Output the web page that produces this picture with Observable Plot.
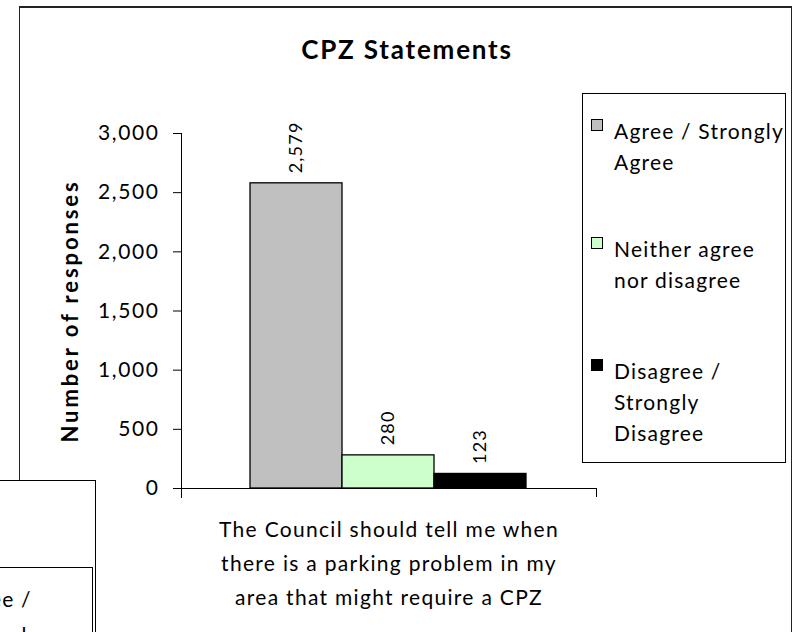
<!DOCTYPE html>
<html><head><meta charset="utf-8">
<script src="https://cdn.jsdelivr.net/npm/d3@7"></script>
<script src="https://cdn.jsdelivr.net/npm/@observablehq/plot@0.6"></script>
<style>
html,body{margin:0;padding:0;background:#fff;}
#wrap{position:relative;width:793px;height:632px;overflow:hidden;font-family:Lato,"Open Sans",sans-serif;color:#000;background:#fff;}
#wrap svg{position:absolute;left:0;top:0;}
.box{position:absolute;border:1px solid #000;background:#fff;box-sizing:border-box;}
#frame{left:19px;top:6px;width:773px;height:700px;background:transparent;border-color:#222;border-top-width:2px;}
#legend{left:582px;top:93px;width:204px;height:370px;}
.entry{position:absolute;left:0;font-size:21px;line-height:31px;letter-spacing:1.2px;}
.sw{position:absolute;left:8px;width:12px;height:12px;border:1px solid #000;box-sizing:border-box;}
.lbl{position:absolute;left:31px;white-space:nowrap;}
#boxA{left:-5px;top:480px;width:101px;height:200px;}
#boxB{left:-5px;top:567px;width:98px;height:200px;}
#other{position:absolute;font-size:21px;line-height:36px;letter-spacing:1.2px;white-space:nowrap;}
.ls-tick{letter-spacing:1.6px;}
.ls-val{letter-spacing:1.2px;}
.ls-cat{letter-spacing:1.3px;}
.ls-ylab{letter-spacing:2.9px;}
.ls-title{letter-spacing:1.8px;}
</style></head><body><div id="wrap"></div>
<script>
// ---- data ----
const title = "CPZ Statements";
const yLabel = "Number of responses";
const category = "The Council should tell me when\nthere is a parking problem in my\narea that might require a CPZ";
const series = ["Agree / Strongly Agree", "Neither agree nor disagree", "Disagree / Strongly Disagree"];
const legendLines = [["Agree / Strongly", "Agree"], ["Neither agree", "nor disagree"], ["Disagree /", "Strongly", "Disagree"]];
const values = [2579, 280, 123];
const colors = ["#C0C0C0", "#CCFFCC", "#000000"];
const yTicks = [0, 500, 1000, 1500, 2000, 2500, 3000];
const otherLegendLines = ["Agree /", "Strongly"];

const rows = series.map((s, i) => ({series: s, value: values[i]}));
const fmt = d3.format(",");
const font = 'Lato, "Open Sans", sans-serif';

const wrap = document.getElementById("wrap");

const frame = document.createElement("div");
frame.className = "box"; frame.id = "frame";
wrap.appendChild(frame);

const chart = Plot.plot({
  width: 793, height: 632,
  marginLeft: 181, marginRight: 197, marginTop: 133, marginBottom: 144,
  style: {fontFamily: font, background: "transparent", color: "#000", overflow: "visible"},
  x: {domain: series, padding: 0, insetLeft: 68, insetRight: 70, axis: null},
  y: {domain: [0, 3000], axis: null},
  color: {domain: series, range: colors},
  marks: [
    Plot.barY(rows, {x: "series", y: "value", fill: "series", stroke: "#000", strokeWidth: 1.3}),
    Plot.frame({anchor: "left", insetBottom: -9, stroke: "#000"}),
    Plot.frame({anchor: "bottom", stroke: "#000"}),
    Plot.frame({anchor: "right", insetTop: 355, insetBottom: -8, stroke: "#000"}),
    Plot.axisY({ticks: yTicks, tickFormat: fmt, tickSize: 8, tickPadding: 14, fontSize: 21, label: null, className: "ls-tick"}),
    Plot.text(rows, {x: "series", y: "value", text: d => fmt(d.value), rotate: -90, textAnchor: "start", lineAnchor: "middle", dy: -10, fontSize: 18, className: "ls-val"}),
    Plot.text([category], {frameAnchor: "bottom", lineAnchor: "top", dy: 24, fontSize: 21, lineHeight: 1.62, className: "ls-cat"}),
    Plot.text([yLabel], {frameAnchor: "left", rotate: -90, textAnchor: "middle", lineAnchor: "middle", dx: -111, fontSize: 22, fontWeight: "bold", className: "ls-ylab"}),
    Plot.text([title], {frameAnchor: "top", lineAnchor: "middle", dx: 18, dy: -83, fontSize: 26, fontWeight: "bold", className: "ls-title"})
  ]
});
wrap.appendChild(chart);

// legend
const legend = document.createElement("div");
legend.className = "box"; legend.id = "legend";
const entryTops = [21, 139, 261];
legendLines.forEach((lines, i) => {
  const e = document.createElement("div");
  e.className = "entry";
  e.style.top = entryTops[i] + "px";
  const sw = document.createElement("div");
  sw.className = "sw";
  sw.style.top = "4px";
  sw.style.background = colors[i];
  e.appendChild(sw);
  lines.forEach((t, j) => {
    const l = document.createElement("div");
    l.className = "lbl";
    l.style.top = (j * 31) + "px";
    l.textContent = t;
    e.appendChild(l);
  });
  legend.appendChild(e);
});
wrap.appendChild(legend);

// neighbouring chart peeking in at the bottom-left
const boxA = document.createElement("div");
boxA.className = "box"; boxA.id = "boxA";
wrap.appendChild(boxA);
const boxB = document.createElement("div");
boxB.className = "box"; boxB.id = "boxB";
wrap.appendChild(boxB);
const other = document.createElement("div");
other.id = "other";
other.style.left = "-46px";
other.style.top = "581px";
other.innerHTML = otherLegendLines.map(t => `<div>${t}</div>`).join("");
wrap.appendChild(other);
</script>
</body></html>
